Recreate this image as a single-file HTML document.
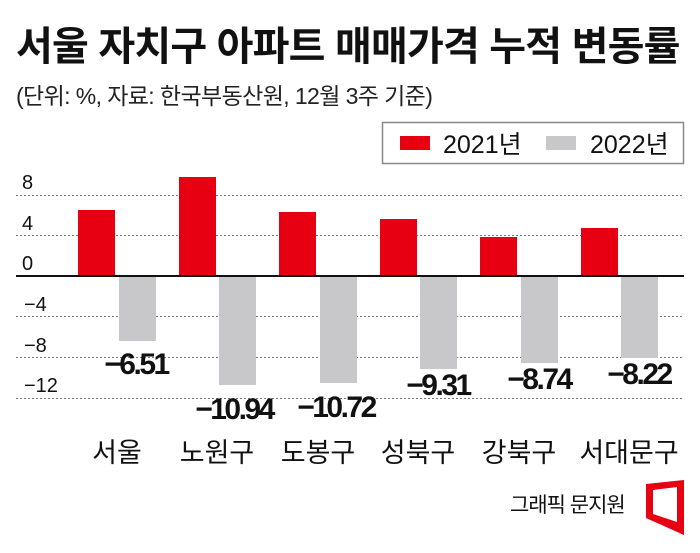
<!DOCTYPE html>
<html><head><meta charset="utf-8"><style>
body{margin:0;background:#fff;}
svg text{font-family:"Liberation Sans","Noto Sans CJK KR",sans-serif;}
</style></head><body>
<svg width="700" height="548" xmlns="http://www.w3.org/2000/svg">
<text x="16" y="60" font-size="40" font-weight="bold" fill="#111" letter-spacing="-0.8">서울 자치구 아파트 매매가격 누적 변동률</text>
<text x="16" y="104" font-size="23" fill="#222" letter-spacing="-0.6">(단위: %, 자료: 한국부동산원, 12월 3주 기준)</text>
<rect x="382.5" y="122.5" width="301" height="41" fill="#fff" stroke="#888" stroke-width="1.5"/>
<rect x="400" y="136" width="30" height="14" fill="#e60012"/>
<text x="443" y="153" font-size="25" fill="#111">2021년</text>
<rect x="546" y="136" width="30" height="14" fill="#c8c8ca"/>
<text x="590" y="153" font-size="25" fill="#111">2022년</text>
<g stroke="#777" stroke-width="1" stroke-dasharray="2,2">
<line x1="16" y1="195.5" x2="684" y2="195.5"/>
<line x1="16" y1="235.5" x2="684" y2="235.5"/>
<line x1="16" y1="316.5" x2="684" y2="316.5"/>
<line x1="16" y1="357.5" x2="684" y2="357.5"/>
<line x1="16" y1="398.5" x2="684" y2="398.5"/>
</g>
<g font-size="20" fill="#111">
<text x="22" y="189">8</text>
<text x="22" y="230">4</text>
<text x="22" y="270">0</text>
<text x="24" y="311">−4</text>
<text x="24" y="352">−8</text>
<text x="24" y="392">−12</text>
</g>
<g fill="#e60012">
<rect x="78" y="210" width="37" height="66"/>
<rect x="179" y="177" width="37" height="99"/>
<rect x="279" y="212" width="37" height="64"/>
<rect x="380" y="219" width="37" height="57"/>
<rect x="480" y="237" width="37" height="39"/>
<rect x="581" y="228" width="37" height="48"/>
</g>
<g fill="#c8c8ca">
<rect x="119" y="276" width="37" height="65"/>
<rect x="219" y="276" width="37" height="109"/>
<rect x="320" y="276" width="37" height="107"/>
<rect x="420" y="276" width="37" height="93"/>
<rect x="521" y="276" width="37" height="87"/>
<rect x="621" y="276" width="37" height="82"/>
</g>
<line x1="16" y1="276" x2="684" y2="276" stroke="#111" stroke-width="2"/>
<g font-size="30" font-weight="bold" fill="#111" text-anchor="middle" letter-spacing="-2.5">
<text x="136" y="374">−6.51</text>
<text x="234" y="419">−10.94</text>
<text x="336" y="417">−10.72</text>
<text x="438" y="395">−9.31</text>
<text x="539" y="389">−8.74</text>
<text x="639" y="384">−8.22</text>
</g>
<g font-size="27" fill="#111" text-anchor="middle">
<text x="117" y="462">서울</text>
<text x="217" y="462">노원구</text>
<text x="318" y="462">도봉구</text>
<text x="418" y="462">성북구</text>
<text x="519" y="462">강북구</text>
<text x="629" y="462">서대문구</text>
</g>
<text x="510" y="512" font-size="21" fill="#111" letter-spacing="-1">그래픽 문지원</text>
<path fill="#e60012" fill-rule="evenodd" d="M646,484 L684,480 L684,535 L646,518 Z M653,490 L677,487 L677,522 L653,514 Z"/>
</svg>
</body></html>
